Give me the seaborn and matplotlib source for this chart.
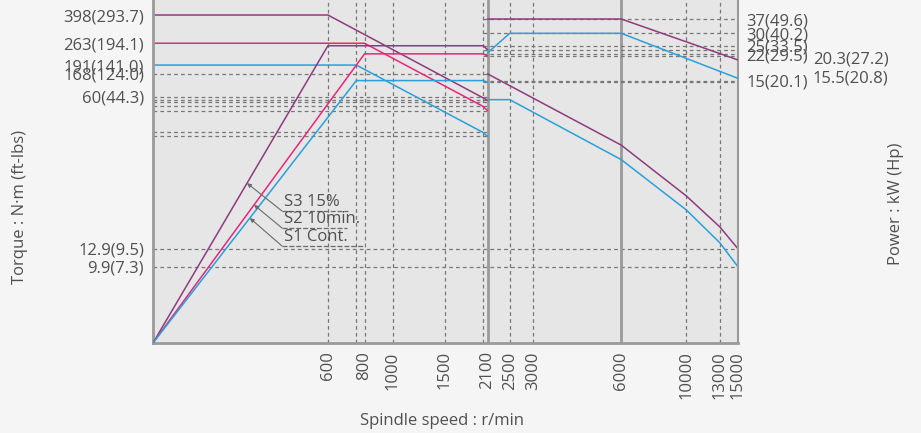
import numpy as np
import seaborn as sns
import matplotlib.pyplot as plt
from matplotlib.ticker import NullLocator
from matplotlib.transforms import blended_transform_factory

sns.set_theme(style="white")
plt.rcParams['font.family'] = ['Open Sans', 'DejaVu Sans']

# axis ranges (log-log chart, lower-left corner is the "origin")
speed_min, speed_max = 152, 15000
torque_min, torque_max = 3.24, 496
power_min, power_max = 0.32, 48.9

speed_ticks = [600, 800, 1000, 1500, 2100, 2500, 3000, 6000, 10000, 13000, 15000]
speed_grid = [600, 750, 800, 1000, 1500, 2030, 2500, 3000, 10000, 13000]
speed_switch = [2100, 6000]

torque_ticks = [398, 263, 191, 168, 60, 12.9, 9.9]
torque_tick_labels = ["398(293.7)", "263(194.1)", "191(141.0)", "168(124.0)",
                      "60(44.3)", "12.9(9.5)", "9.9(7.3)"]
power_ticks = [37, 30, 25, 22, 15]
power_tick_labels = ["37(49.6)", "30(40.2)", "25(33.5)", "22(29.5)", "15(20.1)"]
power_end_ticks = [20.3, 15.5]
power_end_labels = ["20.3(27.2)", "15.5(20.8)"]

# dotted reference levels
torque_levels_low = [168, 120, 115, 111, 105, 98, 72, 67]
torque_levels_full = [12.9, 9.9]
power_levels_high = [37, 30, 25, 23.6, 22.2, 21.5, 15, 14.6]

# low speed winding (0 - 2100 r/min)
s3_lo_speed = [152, 600, 2030, 2100]
s3_lo_torque = [398, 398, 118, 114]
s3_lo_power = [0.32, 25, 25, 23.6]
s2_lo_speed = [152, 800, 2030, 2100]
s2_lo_torque = [263, 263, 104, 98]
s2_lo_power = [0.32, 22.2, 22.2, 21.5]
s1_lo_speed = [152, 750, 2030, 2100]
s1_lo_torque = [191, 191, 71, 67]
s1_lo_power = [0.32, 15, 15, 14.6]

# high speed winding (2100 - 15000 r/min)
s3_hi_power_speed = [2100, 6000, 15000]
s3_hi_power = [37, 37, 20.3]
s1_hi_power_speed = [2100, 2500, 6000, 15000]
s1_hi_power = [22.5, 30, 30, 15.5]
s3_hi_torque_speed = [2100, 6000, 10000, 13000, 15000]
s3_hi_torque = [168, 59, 28, 17.8, 12.9]
s1_hi_torque_speed = [2100, 2500, 6000, 10000, 13000, 15000]
s1_hi_torque = [115, 115, 47.7, 22.8, 14.1, 9.9]

duty_labels = ["S3 15%", "S2 10min.", "S1 Cont."]

c_s3 = "#8e3b7e"
c_s2 = "#e4287a"
c_s1 = "#2aa0da"
grid_c = "#777777"
text_c = "#505050"
fs = 12

fig = plt.figure(figsize=(9.21, 4.33), dpi=100, facecolor="#f5f5f5")
ax = fig.add_axes([0.1661, 0.2079, 0.6352, 0.7921])
ax.set_facecolor("#e6e6e6")
ax.set_xscale("log")
ax.set_yscale("log")
ax.set_xlim(speed_min, speed_max)
ax.set_ylim(torque_min, torque_max)
ax2 = ax.twinx()
ax2.set_yscale("log")
ax2.set_ylim(power_min, power_max)

dot = dict(color=grid_c, lw=0.9, linestyle=(0, (3, 2.5)), zorder=1)
for s in speed_grid:
    ax.axvline(s, **dot)
ax.hlines(torque_levels_low, speed_min, 2100, **dot)
ax.hlines(torque_levels_full, speed_min, speed_max, **dot)
ax2.hlines(power_levels_high, 2030, speed_max, **dot)
for s in speed_switch:
    ax.axvline(s, color="#9a9a9a", lw=2, zorder=1.5)

lw = 1.1
kw = dict(sort=False, estimator=None, lw=lw, legend=False)
# torque curves
sns.lineplot(x=s3_lo_speed, y=s3_lo_torque, ax=ax, color=c_s3, **kw)
sns.lineplot(x=s2_lo_speed, y=s2_lo_torque, ax=ax, color=c_s2, **kw)
sns.lineplot(x=s1_lo_speed, y=s1_lo_torque, ax=ax, color=c_s1, **kw)
sns.lineplot(x=s3_hi_torque_speed, y=s3_hi_torque, ax=ax, color=c_s3, **kw)
sns.lineplot(x=s1_hi_torque_speed, y=s1_hi_torque, ax=ax, color=c_s1, **kw)
# power curves
sns.lineplot(x=s3_lo_speed, y=s3_lo_power, ax=ax2, color=c_s3, **kw)
sns.lineplot(x=s2_lo_speed, y=s2_lo_power, ax=ax2, color=c_s2, **kw)
sns.lineplot(x=s1_lo_speed, y=s1_lo_power, ax=ax2, color=c_s1, **kw)
sns.lineplot(x=s3_hi_power_speed, y=s3_hi_power, ax=ax2, color=c_s3, **kw)
sns.lineplot(x=s1_hi_power_speed, y=s1_hi_power, ax=ax2, color=c_s1, **kw)

# duty labels with leader lines pointing at the rising power lines
tip_speeds = [318, 336, 325]
series = [(s3_lo_speed, s3_lo_power), (s2_lo_speed, s2_lo_power), (s1_lo_speed, s1_lo_power)]
under_y = [0.3848, 0.3353, 0.2828]
under_end = [0.333, 0.3316, 0.3624]
for lab, tip, (spd, pw), uy, ue in zip(duty_labels, tip_speeds, series, under_y, under_end):
    tp = np.exp(np.interp(np.log(tip), np.log(spd), np.log(pw)))
    ax2.annotate("", xy=(tip, tp), xycoords="data", xytext=(0.2205, uy),
                 textcoords="axes fraction",
                 arrowprops=dict(arrowstyle="-|>", color="#6a6a6a", lw=0.8,
                                 shrinkA=0, shrinkB=0, mutation_scale=6))
    ax2.plot([0.2205, ue], [uy, uy], transform=ax2.transAxes, color="#6a6a6a",
             lw=0.9, linestyle=(0, (4, 1.5)))
    ax2.text(0.224, uy + 0.004, lab, transform=ax2.transAxes, ha="left", va="bottom",
             fontsize=fs, color=text_c)

# ticks
ax.xaxis.set_minor_locator(NullLocator())
ax.yaxis.set_minor_locator(NullLocator())
ax2.yaxis.set_minor_locator(NullLocator())
ax.set_xticks(speed_ticks, [str(s) for s in speed_ticks], rotation=90)
# the original prints the 60(44.3) label up at the 2100 r/min torque level
label_shift = {60: 2.0}
ax.set_yticks([t * label_shift.get(t, 1) for t in torque_ticks], torque_tick_labels)
ax2.set_yticks(power_ticks, power_tick_labels)
ax.tick_params(axis="x", length=0, pad=6, labelsize=fs, labelcolor=text_c)
ax.tick_params(axis="y", length=0, pad=6.5, labelsize=fs, labelcolor=text_c)
ax2.tick_params(axis="y", length=0, pad=5.8, labelsize=fs, labelcolor=text_c)
tr = blended_transform_factory(ax2.transAxes, ax2.transData)
for v, lab in zip(power_end_ticks, power_end_labels):
    ax2.text(1.128, v, lab, transform=tr, ha="left", va="center",
             fontsize=fs, color=text_c)

for a in (ax, ax2):
    for sp in a.spines.values():
        sp.set_visible(False)
for side, w in (("left", 2), ("bottom", 2), ("right", 1.5)):
    ax.spines[side].set_visible(True)
    ax.spines[side].set_color("#9a9a9a")
    ax.spines[side].set_linewidth(w)

fig.text(20 / 921, 1 - 207 / 433, "Torque : N·m (ft-lbs)", rotation=90,
         ha="center", va="center", fontsize=fs, color=text_c)
fig.text(896 / 921, 1 - 204 / 433, "Power : kW (Hp)", rotation=90,
         ha="center", va="center", fontsize=fs, color=text_c)
fig.text(442 / 921, 1 - 421 / 433, "Spindle speed : r/min",
         ha="center", va="center", fontsize=fs, color=text_c)

fig.savefig("out.png", dpi=100, facecolor=fig.get_facecolor())
